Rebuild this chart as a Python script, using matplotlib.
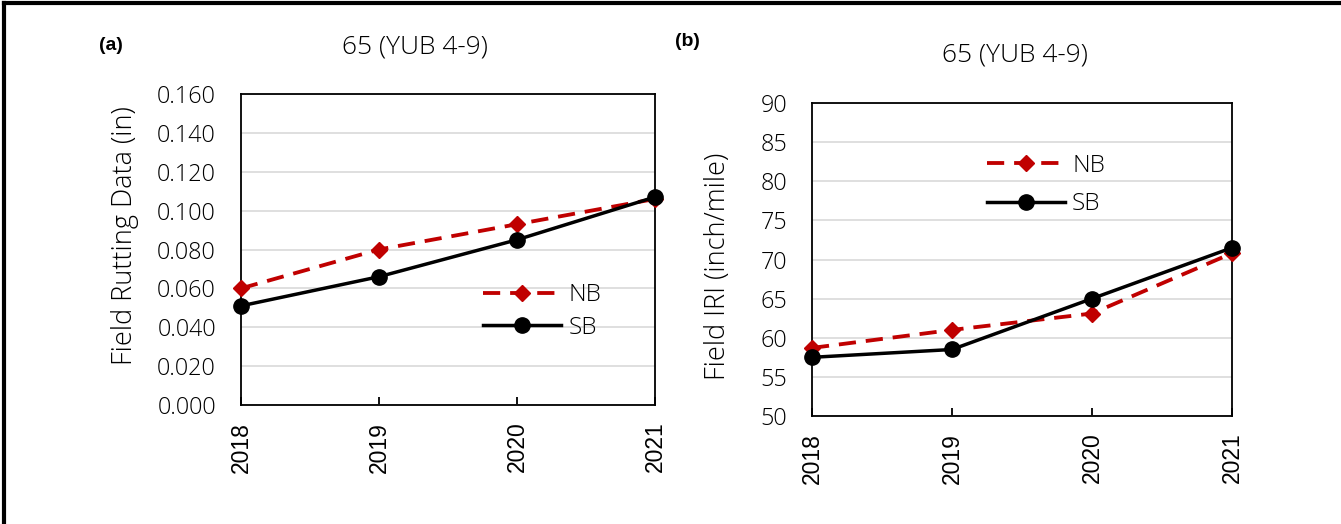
import numpy as np
import matplotlib
matplotlib.use("Agg")
import matplotlib.pyplot as plt
from matplotlib.lines import Line2D

# data
years = ["2018", "2019", "2020", "2021"]
rut_nb = [0.060, 0.080, 0.093, 0.106]
rut_sb = [0.051, 0.066, 0.085, 0.107]
iri_nb = [58.7, 61.0, 63.1, 70.8]
iri_sb = [57.5, 58.5, 65.0, 71.5]
title = "65 (YUB 4-9)"

RED = "#c00000"
GRID = "#d9d9d9"
MAIN_FONT = ["Open Sans", "DejaVu Sans"]
LIGHT = 300

fig = plt.figure(figsize=(13.41, 5.24), dpi=100)

# figure frame: only top and left edges visible
fig.add_artist(Line2D([0.003, 1.0], [0.9935, 0.9935], color="black", lw=3,
                      transform=fig.transFigure))
fig.add_artist(Line2D([0.003, 0.003], [0.0, 0.9935], color="black", lw=3,
                      transform=fig.transFigure))


def draw_panel(ax, nb, sb, ylim, yticks, yfmt, legend_anchor, spacing):
    x = np.arange(len(years))
    ax.plot(x, nb, color=RED, lw=2.75, linestyle=(0, (4.5, 2.6)),
            marker="D", ms=8, mec=RED, mfc=RED, label="NB", clip_on=False, zorder=3)
    ax.plot(x, sb, color="black", lw=2.5, marker="o", ms=11,
            label="SB", clip_on=False, zorder=4)
    ax.set_xlim(0, len(years) - 1)
    ax.set_ylim(*ylim)
    ax.set_yticks(yticks)
    ax.set_yticklabels([yfmt(v) for v in yticks], fontsize=16.8,
                       family=MAIN_FONT, fontweight=LIGHT)
    ax.set_xticks(x)
    ax.set_xticklabels(years, rotation=90, fontsize=16.5, family="Liberation Sans")
    ax.tick_params(axis="x", direction="in", length=6, width=1.3, pad=12)
    ax.tick_params(axis="y", length=0, pad=18)
    ax.grid(axis="y", color=GRID, lw=1.2)
    ax.set_axisbelow(True)
    for s in ax.spines.values():
        s.set_linewidth(1.3)
        s.set_color("black")
    leg = ax.legend(loc="upper left", bbox_to_anchor=legend_anchor, frameon=False,
                    handlelength=3.2, handletextpad=0.3, labelspacing=spacing,
                    borderpad=0, borderaxespad=0,
                    prop={"family": MAIN_FONT, "size": 17.5, "weight": LIGHT})
    return leg


ax1 = fig.add_axes([0.1797, 0.2271, 0.3087, 0.5935])
draw_panel(ax1, rut_nb, rut_sb, (0, 0.16), np.arange(0, 0.161, 0.02),
           lambda v: f"{v:.3f}", (0.585, 0.392), 0.35)

ax2 = fig.add_axes([0.6055, 0.2061, 0.3132, 0.5973])
draw_panel(ax2, iri_nb, iri_sb, (50, 90), np.arange(50, 91, 5),
           lambda v: f"{v:.0f}", (0.417, 0.838), 0.6)

# titles, panel letters, axis labels
fig.text(415 / 1341, 1 - 47 / 524, title, ha="center", va="center",
         fontsize=19, family=MAIN_FONT, fontweight=LIGHT)
fig.text(1015 / 1341, 1 - 55 / 524, title, ha="center", va="center",
         fontsize=19, family=MAIN_FONT, fontweight=LIGHT)
fig.text(111 / 1341, 1 - 45 / 524, "(a)", ha="center", va="center",
         fontsize=14, fontweight="bold", family="Liberation Sans")
fig.text(687 / 1341, 1 - 42 / 524, "(b)", ha="center", va="center",
         fontsize=14, fontweight="bold", family="Liberation Sans")
fig.text(125 / 1341, 1 - 236 / 524, "Field Rutting Data (in)", rotation=90,
         ha="center", va="center", fontsize=19.5, family=MAIN_FONT, fontweight=LIGHT)
fig.text(718 / 1341, 1 - 266 / 524, "Field IRI (inch/mile)", rotation=90,
         ha="center", va="center", fontsize=19.5, family=MAIN_FONT, fontweight=LIGHT)

fig.savefig("out.png", dpi=100)
